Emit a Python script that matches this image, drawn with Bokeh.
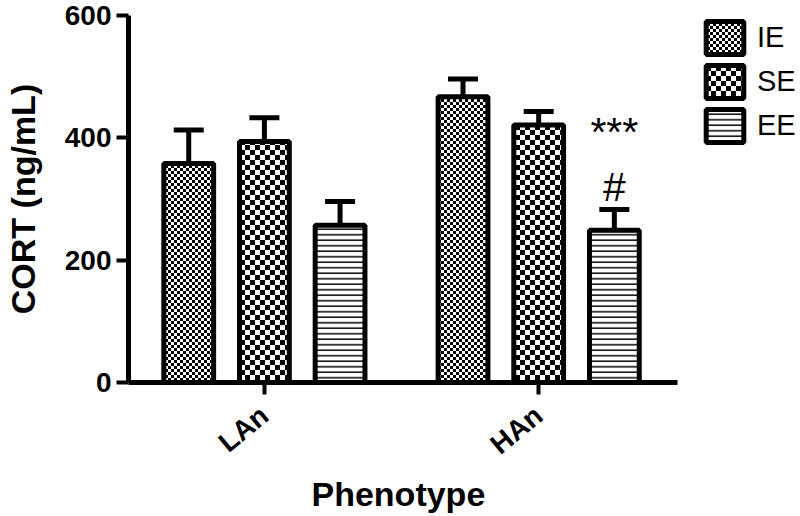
import base64
import struct
import zlib

from bokeh.plotting import figure
from bokeh.models import (Range1d, FixedTicker, Whisker, TeeHead, ColumnDataSource,
                          Legend, LegendItem, ImageURLTexture, Title)
from bokeh.core.properties import value
from bokeh.embed import file_html
from bokeh.resources import INLINE

# ---- data ----
phenotypes = ["LAn", "HAn"]
groups = ["IE", "SE", "EE"]
ie_mean = [358, 467]
se_mean = [394, 421]
ee_mean = [257, 249]
ie_sem = [55, 29]
se_sem = [39, 22]
ee_sem = [39, 34]
sig_labels = ["***", "#"]
sig_y = [410, 320]
y_ticks = [0, 200, 400, 600]

# ---- layout constants ----
group_pos = [0, 1]
offsets = [-0.2759, 0.0, 0.2759]
bar_w = 0.1815
px_per_unit = 275.5
x_start, x_axis_end = -0.4955, 1.5045
frame_left, frame_top, frame_bottom = 125, 15, 382
W, H = 800, 516


def checker_url(cell, reps=4):
    size = 2 * cell * reps
    raw = b""
    for yy in range(size):
        raw += b"\x00" + bytes(0 if ((xx // cell + yy // cell) % 2 == 0) else 255
                               for xx in range(size))

    def chunk(tag, data):
        return (struct.pack(">I", len(data)) + tag + data +
                struct.pack(">I", zlib.crc32(tag + data) & 0xFFFFFFFF))

    png = (b"\x89PNG\r\n\x1a\n" +
           chunk(b"IHDR", struct.pack(">IIBBBBB", size, size, 8, 0, 0, 0, 0)) +
           chunk(b"IDAT", zlib.compress(raw)) + chunk(b"IEND", b""))
    return "data:image/png;base64," + base64.b64encode(png).decode()


tex_fine = ImageURLTexture(url=checker_url(3))
tex_coarse = ImageURLTexture(url=checker_url(5))

p = figure(width=W, height=H, output_backend="svg", toolbar_location=None,
           x_range=Range1d(x_start, x_start + (W - frame_left) / px_per_unit),
           y_range=Range1d(0, 600),
           min_border_left=frame_left, min_border_right=0, min_border_top=frame_top,
           min_border_bottom=H - frame_bottom)
p.outline_line_color = None
p.xgrid.visible = False
p.ygrid.visible = False
p.background_fill_color = "white"

means = [ie_mean, se_mean, ee_mean]
sems = [ie_sem, se_sem, ee_sem]
styles = [
    dict(hatch_pattern=value("fine"), hatch_extra={"fine": tex_fine}),
    dict(hatch_pattern=value("coarse"), hatch_extra={"coarse": tex_coarse}),
    dict(hatch_pattern=value("horizontal_line"), hatch_scale=5.5, hatch_weight=1.5),
]
renderers = []
for gi, g in enumerate(groups):
    xs = [gp + offsets[gi] for gp in group_pos]
    src = ColumnDataSource(dict(x=xs, top=means[gi],
                                upper=[m + s for m, s in zip(means[gi], sems[gi])],
                                lower=means[gi]))
    w = Whisker(base="x", upper="upper", lower="lower", source=src, line_width=5,
                line_color="black", lower_head=None,
                upper_head=TeeHead(size=30, line_width=5, line_color="black"),
                level="underlay")
    p.add_layout(w)
    r = p.vbar(x="x", top="top", bottom=0, width=bar_w, source=src,
               fill_color="white", line_color="black", line_width=5,
               hatch_color="black", **styles[gi])
    renderers.append(r)

# significance marks above HAn EE
p.text(x=[group_pos[1] + offsets[2]] * 2, y=sig_y, text=sig_labels,
       text_font=value("Liberation Sans"), text_font_size="41px",
       text_align="center", text_baseline="middle", text_color="black")

# axes
for ax in (p.xaxis[0], p.yaxis[0]):
    ax.axis_line_width = 5
    ax.major_tick_line_width = 4
    ax.major_tick_out = 12
    ax.major_tick_in = 0
    ax.minor_tick_line_color = None
    ax.major_label_text_font = "Liberation Sans"
    ax.major_label_text_font_style = "bold"
    ax.major_label_text_font_size = "28px"
    ax.axis_label_text_font = "Liberation Sans"
    ax.axis_label_text_font_style = "bold"
    ax.axis_label_text_color = "black"
    ax.major_label_text_color = "black"

p.yaxis.ticker = FixedTicker(ticks=y_ticks)
p.yaxis.axis_label = "CORT (ng/mL)"
p.yaxis.axis_label_text_font_size = "34px"
p.yaxis.major_label_standoff = 5
p.yaxis.axis_label_standoff = 20

p.xaxis.bounds = (x_start, x_axis_end)
p.xaxis.ticker = FixedTicker(ticks=group_pos)
p.xaxis.major_label_overrides = {gp: name for gp, name in zip(group_pos, phenotypes)}
p.xaxis.major_label_orientation = 0.69
p.xaxis.major_label_standoff = 17

xtitle = Title(text="Phenotype", align="left", offset=183, standoff=-5,
               text_font="Liberation Sans", text_font_style="bold",
               text_font_size="34px", text_color="black")
p.add_layout(xtitle, "below")

legend = Legend(items=[LegendItem(label=g, renderers=[r]) for g, r in zip(groups, renderers)],
                location=(573, 236), glyph_width=47, glyph_height=41,
                label_standoff=9, spacing=3, padding=0, margin=0,
                border_line_color=None, background_fill_alpha=0,
                label_text_font="Liberation Sans", label_text_font_size="29px",
                label_text_color="black")
p.add_layout(legend)

open("out.html", "w").write(file_html(p, INLINE))
